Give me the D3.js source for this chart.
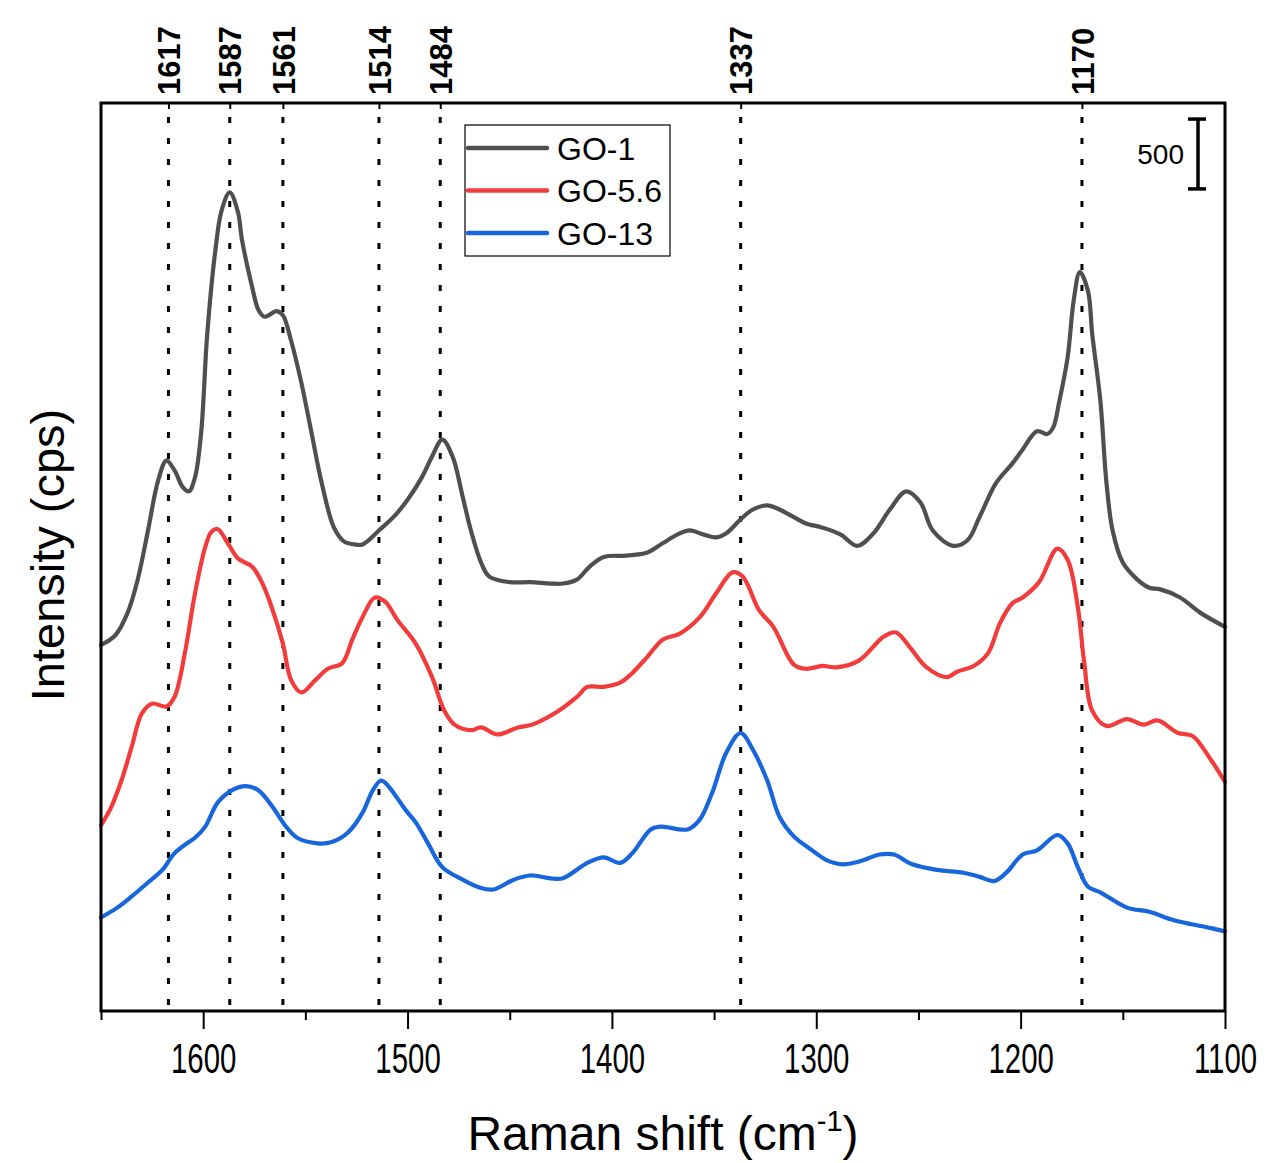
<!DOCTYPE html>
<html>
<head>
<meta charset="utf-8">
<script src="https://cdn.jsdelivr.net/npm/d3@7"></script>
<style>
  body { margin: 0; background: #fff; }
  svg { display: block; font-family: "Liberation Sans", Arial, sans-serif; }
</style>
</head>
<body>
<svg id="chart"></svg>
<script>
// Raman shift (cm-1) and intensity (cps, stacked offsets as plotted)
const shiftGO1 = [1650,1643,1637,1632,1627,1622,1618,1614,1610,1607,1604,1601,1598,1594,1591,1587,1583,1581,1576,1573,1570,1564,1561,1557,1552,1547,1542,1536,1531,1526,1522,1514,1506,1500,1493,1488,1483,1478,1473,1469,1464,1460,1450,1440,1430,1424,1417,1411,1404,1393,1383,1375,1368,1362,1355,1349,1344,1337,1331,1324,1318,1309,1305,1297,1288,1280,1272,1264,1256,1249,1243,1233,1226,1220,1212,1204,1199,1192,1187,1184,1181,1177,1174,1171,1167,1165,1161,1158,1155,1150,1143,1137,1132,1122,1112,1100];
const intGO1 = [2620,2690,2850,3090,3440,3800,3940,3870,3750,3720,3820,4140,4850,5450,5730,5860,5720,5520,5180,5020,4970,5010,4980,4800,4500,4140,3780,3460,3360,3340,3340,3440,3550,3660,3820,3970,4090,3970,3680,3440,3210,3110,3070,3070,3060,3060,3090,3180,3250,3260,3280,3350,3410,3440,3410,3390,3420,3520,3590,3620,3590,3520,3490,3460,3410,3330,3420,3590,3720,3640,3440,3330,3370,3540,3780,3920,4020,4150,4130,4180,4370,4680,5090,5290,5150,4850,4370,3780,3440,3210,3090,3030,3020,2960,2850,2750];

const shiftGO56 = [1650,1645,1640,1635,1630,1625,1618,1614,1609,1604,1599,1596,1593,1588,1583,1576,1571,1566,1561,1557,1552,1545,1539,1532,1527,1522,1516,1511,1505,1496,1488,1482,1477,1469,1464,1456,1446,1439,1427,1417,1412,1404,1396,1390,1383,1375,1367,1357,1349,1341,1336,1328,1321,1311,1305,1297,1290,1279,1267,1261,1254,1246,1236,1231,1223,1216,1210,1204,1199,1191,1182,1177,1172,1169,1165,1158,1148,1140,1133,1123,1116,1107,1100];
const intGO56 = [1330,1460,1650,1890,2130,2200,2180,2250,2560,2990,3320,3430,3450,3350,3240,3180,3060,2870,2630,2370,2280,2370,2450,2490,2660,2820,2960,2930,2800,2630,2390,2150,2050,2010,2030,1980,2030,2050,2140,2250,2320,2320,2350,2420,2530,2660,2700,2820,2990,3140,3110,2870,2750,2480,2450,2470,2460,2510,2680,2710,2600,2460,2390,2430,2470,2560,2780,2920,2960,3070,3310,3230,2890,2510,2150,2040,2090,2050,2080,1990,1970,1800,1640];

const shiftGO13 = [1650,1642,1635,1627,1620,1614,1607,1604,1599,1593,1586,1579,1573,1566,1560,1554,1544,1537,1529,1522,1517,1513,1510,1501,1496,1490,1483,1473,1464,1458,1448,1440,1430,1424,1412,1404,1396,1390,1381,1376,1363,1357,1351,1344,1337,1331,1324,1318,1311,1302,1295,1287,1279,1269,1262,1253,1241,1228,1220,1213,1207,1199,1192,1182,1177,1172,1167,1161,1148,1137,1125,1109,1100];
const intGO13 = [670,740,820,920,1010,1130,1210,1240,1320,1490,1580,1610,1580,1460,1330,1240,1200,1210,1280,1420,1580,1650,1620,1440,1350,1200,1030,940,880,870,940,970,950,950,1060,1100,1060,1130,1300,1320,1300,1370,1560,1850,1990,1870,1650,1390,1250,1150,1080,1050,1070,1120,1120,1050,1010,990,960,930,990,1120,1150,1260,1200,1030,890,850,740,710,650,600,570];

const seriesNames = ["GO-1", "GO-5.6", "GO-13"];
const seriesColors = ["#4f4f4f", "#f23c3c", "#1866db"];
const peakLabels = [1617, 1587, 1561, 1514, 1484, 1337, 1170];
const xMajorTicks = [1600, 1500, 1400, 1300, 1200, 1100];
const xMinorTicks = [1650, 1550, 1450, 1350, 1250, 1150];
const scaleBarValue = 500;

const series = [
  { name: seriesNames[0], color: seriesColors[0], values: d3.zip(shiftGO1, intGO1) },
  { name: seriesNames[1], color: seriesColors[1], values: d3.zip(shiftGO56, intGO56) },
  { name: seriesNames[2], color: seriesColors[2], values: d3.zip(shiftGO13, intGO13) }
];

const width = 1269;
const height = 1163;
const margin = { top: 103, right: 44, bottom: 152, left: 101 };

const x = d3.scaleLinear().domain([1650, 1100]).range([margin.left, width - margin.right]);
const y = d3.scaleLinear().domain([0, 6500]).range([height - margin.bottom, margin.top]);

const svg = d3.select("#chart").attr("width", width).attr("height", height)
  .attr("viewBox", [0, 0, width, height]);

// dotted peak markers
svg.append("g")
  .selectAll("line")
  .data(peakLabels)
  .join("line")
  .attr("x1", (d) => x(d)).attr("x2", (d) => x(d))
  .attr("y1", margin.top + 14).attr("y2", height - margin.bottom)
  .attr("stroke", "#000")
  .attr("stroke-width", 3)
  .attr("stroke-dasharray", "6 15");

// spectra
const line = d3.line()
  .x((d) => x(d[0]))
  .y((d) => y(d[1]))
  .curve(d3.curveCatmullRom.alpha(0.5));

svg.append("g")
  .attr("fill", "none")
  .attr("stroke-width", 4.2)
  .attr("stroke-linejoin", "round")
  .attr("stroke-linecap", "round")
  .selectAll("path")
  .data(series)
  .join("path")
  .attr("stroke", (d) => d.color)
  .attr("d", (d) => line(d.values));

// bottom axis, major + minor ticks
const xAxis = (g) =>
  g.attr("transform", `translate(0,${height - margin.bottom})`)
    .call(d3.axisBottom(x).tickValues(xMajorTicks).tickSize(18).tickSizeOuter(0).tickPadding(14).tickFormat(d3.format("d")))
    .call((g) => g.select(".domain").remove())
    .call((g) => g.selectAll(".tick line").attr("stroke-width", 2))
    .call((g) => g.selectAll(".tick text")
      .attr("font-size", 42)
      .attr("fill", "#000")
      .attr("transform", "scale(0.7,1)"));

const xMinor = (g) =>
  g.attr("transform", `translate(0,${height - margin.bottom})`)
    .call(d3.axisBottom(x).tickValues(xMinorTicks).tickSize(9).tickSizeOuter(0).tickFormat(""))
    .call((g) => g.select(".domain").remove())
    .call((g) => g.selectAll(".tick line").attr("stroke-width", 2));

svg.append("g").call(xAxis);
svg.append("g").call(xMinor);

// top axis with peak positions
const topAxis = (g) =>
  g.attr("transform", `translate(0,${margin.top})`)
    .call(d3.axisTop(x).tickValues(peakLabels).tickSize(-6).tickSizeOuter(0).tickFormat(d3.format("d")))
    .call((g) => g.select(".domain").remove())
    .call((g) => g.selectAll(".tick line").attr("stroke-width", 2))
    .call((g) => g.selectAll(".tick text")
      .attr("transform", "rotate(-90)")
      .attr("x", 8)
      .attr("y", 0)
      .attr("dy", "0.36em")
      .attr("text-anchor", "start")
      .attr("font-size", 31)
      .attr("font-weight", "bold")
      .attr("fill", "#000"));

svg.append("g").call(topAxis);

// frame
svg.append("rect")
  .attr("x", margin.left).attr("y", margin.top)
  .attr("width", width - margin.left - margin.right)
  .attr("height", height - margin.top - margin.bottom)
  .attr("fill", "none")
  .attr("stroke", "#000")
  .attr("stroke-width", 3);

// axis titles
const xTitle = svg.append("text")
  .attr("x", 663).attr("y", 1150)
  .attr("text-anchor", "middle")
  .attr("font-size", 48)
  .attr("fill", "#000");
xTitle.append("tspan").text("Raman shift (cm");
xTitle.append("tspan").attr("font-size", 29).attr("dy", -19).text("-1");
xTitle.append("tspan").attr("dy", 19).text(")");

svg.append("text")
  .attr("transform", "translate(64,555) rotate(-90)")
  .attr("text-anchor", "middle")
  .attr("font-size", 47)
  .attr("fill", "#000")
  .text("Intensity (cps)");

// legend
const legend = svg.append("g").attr("transform", "translate(465,125)");
legend.append("rect")
  .attr("width", 205).attr("height", 131)
  .attr("fill", "#fff").attr("stroke", "#000").attr("stroke-width", 1.2);
const items = legend.selectAll("g.item")
  .data(series)
  .join("g")
  .attr("class", "item")
  .attr("transform", (d, i) => `translate(0,${23 + i * 42.5})`);
items.append("line")
  .attr("x1", 3).attr("x2", 82)
  .attr("stroke", (d) => d.color)
  .attr("stroke-width", 4.5)
  .attr("stroke-linecap", "round");
items.append("text")
  .attr("x", 92).attr("dy", "0.36em")
  .attr("font-size", 32)
  .attr("fill", "#000")
  .text((d) => d.name);

// 500 cps scale bar
const barTop = 6385;
const bar = svg.append("g").attr("stroke", "#000").attr("stroke-width", 3.5);
bar.append("line").attr("x1", 1198).attr("x2", 1198).attr("y1", y(barTop)).attr("y2", y(barTop - scaleBarValue));
bar.append("line").attr("x1", 1188).attr("x2", 1206).attr("y1", y(barTop)).attr("y2", y(barTop));
bar.append("line").attr("x1", 1188).attr("x2", 1206).attr("y1", y(barTop - scaleBarValue)).attr("y2", y(barTop - scaleBarValue));
svg.append("text")
  .attr("x", 1184).attr("y", y(barTop - scaleBarValue / 2))
  .attr("dy", "0.36em")
  .attr("text-anchor", "end")
  .attr("font-size", 28)
  .attr("fill", "#000")
  .text(scaleBarValue);
</script>
</body>
</html>
